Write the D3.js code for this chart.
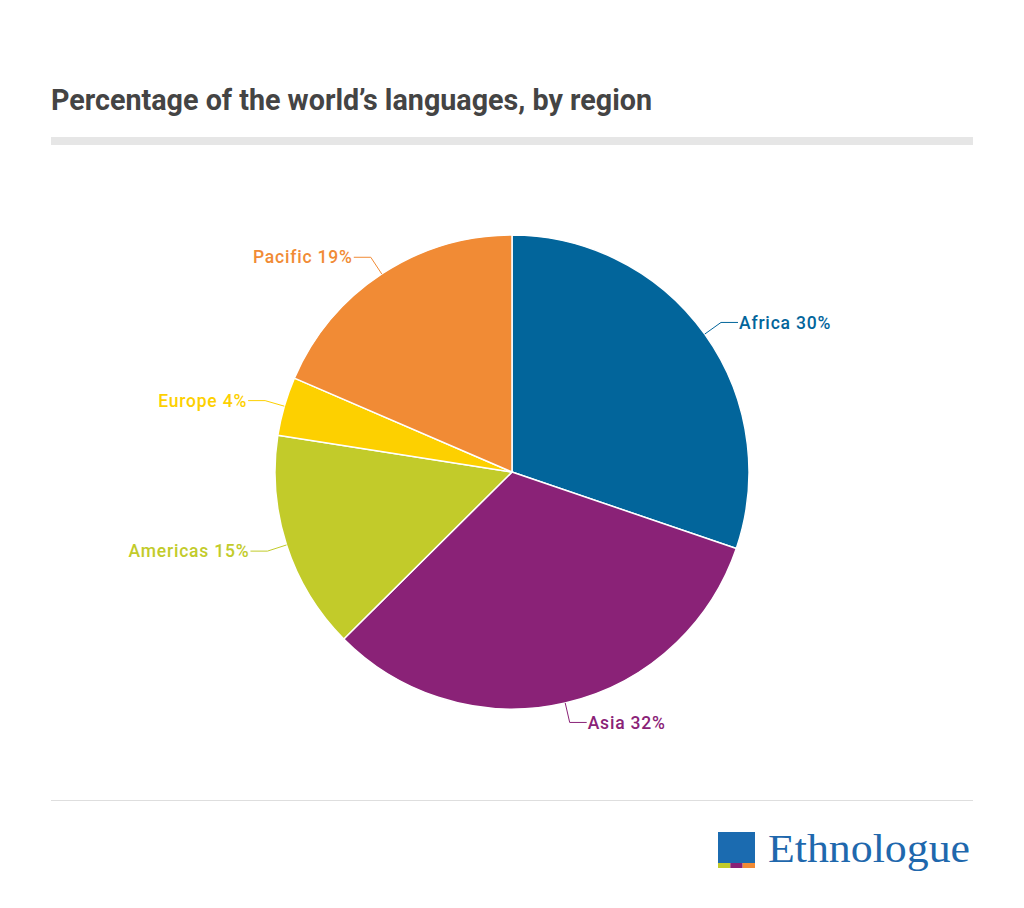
<!DOCTYPE html>
<html>
<head>
<meta charset="utf-8">
<script src="https://cdn.jsdelivr.net/npm/d3@7"></script>
<style>
    body { margin: 0; background: #fff; }
    svg { display: block; font-family: Roboto, "Noto Sans", sans-serif; }
</style>
</head>
<body>
<div id="chart"></div>
<script>
// Data
const regions = ['Africa', 'Asia', 'Americas', 'Europe', 'Pacific'];
const shares = [30.2, 32.3, 14.9, 4.0, 18.5];
const colors = ['#02659b', '#8a2277', '#c2cb2a', '#fdd000', '#f18b35'];

const width = 1024, height = 908;
const cx = 512, cy = 472, radius = 237;

const svg = d3.select('#chart')
    .append('svg')
    .attr('width', width)
    .attr('height', height);

// Title + header bar
svg.append('text')
    .attr('x', 51)
    .attr('y', 110)
    .attr('fill', '#444')
    .style('font-size', '28.7px')
    .style('font-weight', 700)
    .text('Percentage of the world’s languages, by region');

svg.append('rect')
    .attr('x', 51).attr('y', 137)
    .attr('width', 922).attr('height', 8)
    .attr('fill', '#e6e6e6');

// Footer line
svg.append('line')
    .attr('x1', 51).attr('x2', 973)
    .attr('y1', 800.5).attr('y2', 800.5)
    .attr('stroke', '#dedede');

// Pie
const data = regions.map((r, i) => ({ region: r, value: shares[i], color: colors[i] }));

const pie = d3.pie().sort(null).value(d => d.value);
const arc = d3.arc().innerRadius(0).outerRadius(radius);
const arcs = pie(data);

const g = svg.append('g').attr('transform', `translate(${cx},${cy})`);

g.selectAll('path.slice')
    .data(arcs)
    .join('path')
    .attr('class', 'slice')
    .attr('d', arc)
    .attr('fill', d => d.data.color)
    .attr('stroke', '#fff')
    .attr('stroke-width', 1.5)
    .attr('stroke-linejoin', 'round');

// Labels with connectors
function polar(r, a) {
    return [r * Math.sin(a), -r * Math.cos(a)];
}

arcs.forEach(d => {
    const mid = (d.startAngle + d.endAngle) / 2;
    const right = Math.sin(mid) > 0;
    const p0 = polar(radius, mid);
    const p1 = polar(radius + 20, mid);
    const p2 = [p1[0] + (right ? 17 : -17), p1[1]];

    g.append('polyline')
        .attr('points', [p0, p1, p2].map(p => p.join(',')).join(' '))
        .attr('fill', 'none')
        .attr('stroke', d.data.color)
        .attr('stroke-width', 1);

    g.append('text')
        .attr('x', p2[0] + (right ? 1 : -1))
        .attr('y', p2[1])
        .attr('dy', '0.35em')
        .attr('text-anchor', right ? 'start' : 'end')
        .attr('fill', d.data.color)
        .style('font-size', '17.5px')
        .style('font-weight', 500)
        .style('letter-spacing', '0.8px')
        .text(`${d.data.region} ${Math.round(d.data.value)}%`);
});

// Ethnologue logo
const logo = svg.append('g');
logo.append('rect')
    .attr('x', 718).attr('y', 832)
    .attr('width', 37).attr('height', 31)
    .attr('fill', '#1b6bb0');
['#c2cb2a', '#8a2277', '#f18b35'].forEach((c, i) => {
    logo.append('rect')
        .attr('x', 718 + i * 12.33).attr('y', 863)
        .attr('width', 12.33).attr('height', 5)
        .attr('fill', c);
});
logo.append('text')
    .attr('x', 768)
    .attr('y', 862)
    .attr('fill', '#1f68ad')
    .attr('textLength', 202)
    .attr('lengthAdjust', 'spacingAndGlyphs')
    .style('font-family', '"Liberation Serif", "DejaVu Serif", serif')
    .style('font-size', '40px')
    .text('Ethnologue');
</script>
</body>
</html>
